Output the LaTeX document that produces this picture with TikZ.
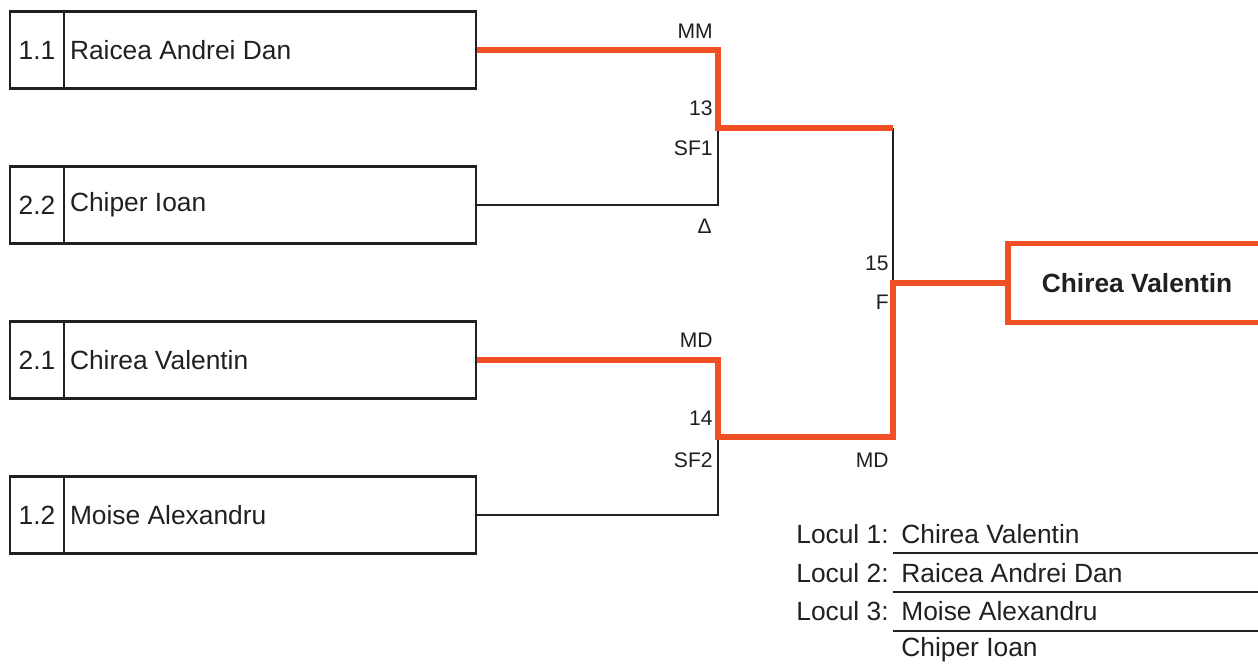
\documentclass[tikz,border=0pt]{standalone}
\usepackage{fontspec}
\setmainfont{Liberation Sans}
\usepackage{tikz}
\definecolor{winorange}{RGB}{240,80,35}
\definecolor{linegray}{RGB}{35,31,32}

\begin{document}
\begin{tikzpicture}[x=0.02cm,y=-0.02cm,
    seed/.style={draw=linegray,line width=1.4pt,minimum width=1.08cm,minimum height=1.54cm,inner sep=0pt,text=linegray,font=\fontsize{15}{18}\selectfont},
    player/.style={draw=linegray,line width=1.4pt,minimum width=8.24cm,minimum height=1.54cm,text width=8.0cm,inner xsep=0.12cm,align=flush left,text=linegray,font=\fontsize{15}{18}\selectfont},
    champ/.style={draw=winorange,line width=3pt,minimum width=5.16cm,minimum height=1.58cm,text=linegray,font=\bfseries\fontsize{15}{18}\selectfont},
    lab/.style={anchor=east,inner sep=0pt,font=\fontsize{12}{14}\selectfont,text=linegray},
    place/.style={inner sep=0pt,font=\fontsize{15}{18}\selectfont,text=linegray},
    win/.style={draw=winorange,line width=3pt},
    lose/.style={draw=linegray,line width=1.4pt}]

    \useasboundingbox (0,0) rectangle (1258,664);

    \node[seed]    (s1) at (37, 50)      {1.1};
    \node[player]  (p1) at (270, 50)     {Raicea Andrei Dan};
    \node[seed]    (s2) at (37, 205)     {2.2};
    \node[player]  (p2) at (270, 205)    {Chiper Ioan};
    \node[seed]    (s3) at (37, 360)     {2.1};
    \node[player]  (p3) at (270, 360)    {Chirea Valentin};
    \node[seed]    (s4) at (37, 515)     {1.2};
    \node[player]  (p4) at (270, 515)    {Moise Alexandru};

    \node[champ]   (fw) at (1137, 283)   {Chirea Valentin};

    \coordinate (sf1) at (718, 128);
    \coordinate (sf2) at (718, 437);
    \coordinate (fa)  at (893, 128);
    \coordinate (fb)  at (893, 437);
    \coordinate (f)   at (893, 283);

    \draw[lose] (p2.east) -| (sf1);
    \draw[lose] (p4.east) -| (sf2);
    \draw[lose] (fa) -- (f);
    \draw[win] (p1.east) -| (sf1) -- (fa);
    \draw[win] (p3.east) -| (sf2) -- (fb) |- (fw.west);

    \node[lab] (mm)   at (713, 31)  {MM};
    \node[lab] (n13)  at (713, 108) {13};
    \node[lab] (sfa)  at (713, 148) {SF1};
    \node[lab] (dl)   at (712, 226) {Δ};
    \node[lab] (mda)  at (713, 340) {MD};
    \node[lab] (n14)  at (713, 418) {14};
    \node[lab] (sfb)  at (713, 460) {SF2};
    \node[lab] (n15)  at (889, 263) {15};
    \node[lab] (fl)   at (889, 302) {F};
    \node[lab] (mdb)  at (889, 460) {MD};

    \node[place,anchor=east] (l1) at (889, 534) {Locul 1:};
    \node[place,anchor=east] (l2) at (889, 573) {Locul 2:};
    \node[place,anchor=east] (l3) at (889, 611) {Locul 3:};
    \node[place,anchor=west] (r1) at (901, 534) {Chirea Valentin};
    \node[place,anchor=west] (r2) at (901, 573) {Raicea Andrei Dan};
    \node[place,anchor=west] (r3) at (901, 611) {Moise Alexandru};
    \node[place,anchor=west] (r4) at (901, 650) {Chiper Ioan};

    \draw[lose] (893, 553) -- (1258, 553);
    \draw[lose] (893, 592) -- (1258, 592);
    \draw[lose] (893, 631) -- (1258, 631);
\end{tikzpicture}
\end{document}
